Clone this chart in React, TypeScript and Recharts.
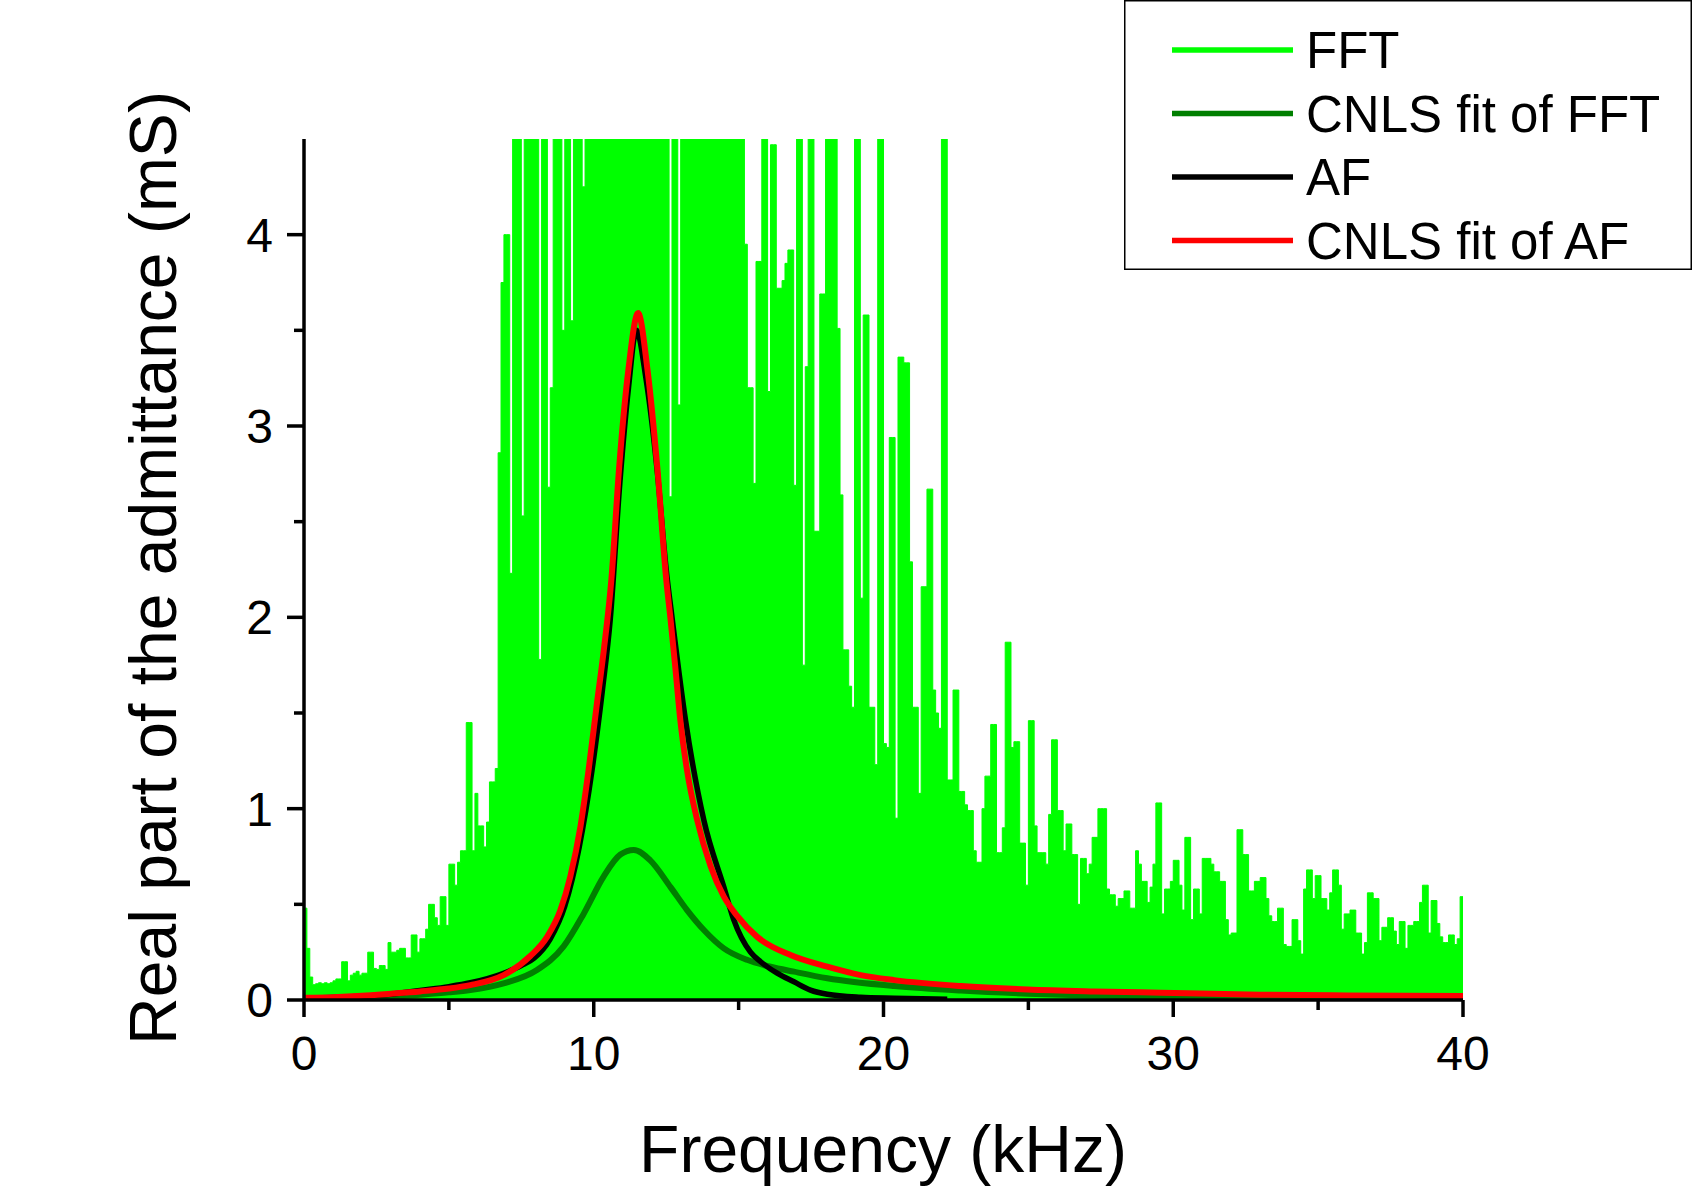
import React from "react";
import { ComposedChart, Area, Line, XAxis, YAxis, Legend } from "recharts";

const FONT = '"Liberation Sans", Arial, Helvetica, sans-serif';

// FFT real part, one value per 0.1 kHz bin from 0 to 40 kHz (mS).
// Values of 5 sit above the 4.5 top of the axis and get clipped.
const fftStep = 0.1;
const fftValues = [
  0.48, 0.27, 0.12, 0.08, 0.085, 0.09, 0.085, 0.09, 0.085, 0.09,
  0.1, 0.11, 0.11, 0.2, 0.2, 0.1, 0.13, 0.14, 0.15, 0.13,
  0.14, 0.14, 0.25, 0.25, 0.165, 0.16, 0.18, 0.18, 0.16, 0.3,
  0.25, 0.25, 0.26, 0.27, 0.27, 0.22, 0.22, 0.34, 0.34, 0.25,
  0.32, 0.32, 0.37, 0.5, 0.5, 0.43, 0.39, 0.54, 0.54, 0.39,
  0.71, 0.71, 0.6, 0.72, 0.78, 0.78, 1.45, 1.45, 0.78, 1.08,
  0.91, 0.91, 0.8, 0.93, 1.14, 1.14, 1.21, 2.86, 3.75, 4.0,
  4.0, 2.23, 5, 5, 5, 2.53, 5, 5, 5, 5,
  5, 1.78, 5, 5, 2.68, 3.2, 5, 5, 5, 3.5,
  5, 5, 3.55, 5, 5, 5, 4.25, 5, 5, 5,
  5, 5, 5, 5, 5, 5, 5, 5, 5, 5,
  5, 5, 5, 5, 5, 5, 5, 5, 5, 5,
  5, 5, 5, 5, 5, 5, 2.63, 5, 5, 3.11,
  5, 5, 5, 5, 5, 5, 5, 5, 5, 5,
  5, 5, 5, 5, 5, 5, 5, 5, 5, 5,
  5, 5, 3.95, 3.2, 3.2, 2.7, 3.86, 3.86, 5, 5,
  3.18, 4.47, 4.47, 3.72, 3.72, 3.76, 3.85, 3.92, 3.92, 2.69,
  5, 5, 1.75, 3.31, 5, 5, 2.45, 2.45, 3.69, 3.69,
  5, 5, 5, 5, 3.51, 2.64, 1.83, 1.83, 1.64, 1.53,
  5, 5, 2.1, 3.58, 3.58, 1.53, 1.53, 1.23, 5, 5,
  1.34, 1.32, 2.94, 2.94, 0.95, 3.36, 3.36, 3.33, 3.33, 2.29,
  1.53, 1.53, 1.08, 2.16, 2.16, 2.67, 2.67, 1.62, 1.5, 1.42,
  5, 5, 1.15, 1.15, 1.62, 1.62, 1.09, 1.09, 1.02, 0.99,
  0.99, 0.78, 0.72, 0.72, 1.0, 1.17, 1.17, 1.44, 1.44, 0.77,
  0.77, 0.9, 1.87, 1.87, 1.32, 1.35, 1.35, 0.82, 0.82, 0.6,
  1.46, 1.46, 0.91, 0.77, 0.77, 0.77, 0.71, 0.97, 1.36, 1.36,
  0.99, 0.99, 0.78, 0.92, 0.92, 0.76, 0.76, 0.5, 0.74, 0.74,
  0.66, 0.71, 0.85, 0.85, 1.0, 1.0, 1.0, 0.58, 0.55, 0.55,
  0.49, 0.53, 0.53, 0.57, 0.57, 0.48, 0.48, 0.78, 0.71, 0.62,
  0.62, 0.51, 0.59, 0.71, 1.03, 1.03, 0.45, 0.58, 0.58, 0.62,
  0.73, 0.73, 0.6, 0.47, 0.85, 0.85, 0.42, 0.58, 0.58, 0.45,
  0.74, 0.74, 0.74, 0.71, 0.67, 0.67, 0.62, 0.62, 0.42, 0.34,
  0.35, 0.35, 0.89, 0.89, 0.76, 0.76, 0.57, 0.57, 0.62, 0.62,
  0.64, 0.64, 0.53, 0.44, 0.41, 0.41, 0.48, 0.48, 0.29, 0.28,
  0.28, 0.42, 0.42, 0.31, 0.24, 0.58, 0.68, 0.68, 0.53, 0.65,
  0.65, 0.53, 0.53, 0.47, 0.56, 0.68, 0.68, 0.6, 0.37, 0.45,
  0.45, 0.47, 0.47, 0.35, 0.35, 0.24, 0.3, 0.56, 0.56, 0.53,
  0.53, 0.31, 0.38, 0.38, 0.43, 0.43, 0.36, 0.29, 0.41, 0.41,
  0.27, 0.39, 0.39, 0.41, 0.41, 0.51, 0.6, 0.6, 0.35, 0.52,
  0.52, 0.4, 0.33, 0.3, 0.3, 0.34, 0.34, 0.29, 0.32, 0.54,
  0.54,
];

// CNLS fit of FFT
const fitFftFreq = [0, 2, 3, 4, 5, 5.74, 6.89, 8.04, 8.96, 9.65, 10.34, 10.92, 11.38, 11.95, 12.65, 13.22, 13.8, 14.49, 15.29, 16.1, 16.91, 18.06, 20.37, 22.67, 24.97, 27.28, 30.73, 33, 40];
const fitFftValues = [0.005, 0.012, 0.018, 0.028, 0.04, 0.052, 0.087, 0.157, 0.28, 0.45, 0.645, 0.76, 0.784, 0.73, 0.59, 0.47, 0.366, 0.27, 0.21, 0.174, 0.148, 0.114, 0.073, 0.049, 0.033, 0.023, 0.012, 0.007, 0.004];

// AF
const afFreq = [0, 2, 3, 4, 5, 5.74, 6.89, 7.5, 7.95, 8.5, 9.0, 9.5, 9.94, 10.3, 10.57, 10.9, 11.2, 11.47, 11.8, 12.2, 12.5, 12.71, 13.17, 13.8, 14.49, 14.83, 15.41, 15.76, 16.33, 16.91, 17.48, 18.06, 19.21, 20.37, 22.2];
const afValues = [0.01, 0.02, 0.03, 0.05, 0.07, 0.09, 0.14, 0.18, 0.22, 0.32, 0.49, 0.8, 1.2, 1.62, 1.99, 2.7, 3.2, 3.5, 3.25, 2.75, 2.25, 1.99, 1.46, 0.94, 0.59, 0.42, 0.25, 0.2, 0.14, 0.095, 0.052, 0.03, 0.014, 0.009, 0.004];

// CNLS fit of AF
const fitAfFreq = [0, 1, 2, 3, 4, 5, 5.74, 6.89, 7.81, 8.39, 8.85, 9.19, 9.54, 9.82, 10.11, 10.34, 10.61, 10.88, 11.2, 11.53, 11.85, 12.19, 12.5, 12.65, 12.82, 12.99, 13.22, 13.57, 14.03, 14.49, 14.95, 15.64, 16.79, 18.06, 19.21, 20.37, 22.67, 24.97, 27.28, 29.58, 33, 36, 40];
const fitAfValues = [0.012, 0.015, 0.022, 0.033, 0.045, 0.06, 0.078, 0.13, 0.23, 0.33, 0.47, 0.645, 0.906, 1.2, 1.55, 1.82, 2.2, 2.79, 3.3, 3.59, 3.3, 2.79, 2.2, 1.99, 1.73, 1.46, 1.2, 0.94, 0.7, 0.54, 0.44, 0.33, 0.235, 0.174, 0.13, 0.104, 0.073, 0.055, 0.045, 0.038, 0.028, 0.024, 0.021];

const xTicks = [0, 5, 10, 15, 20, 25, 30, 35, 40];
const yTicks = [0, 0.5, 1, 1.5, 2, 2.5, 3, 3.5, 4];

const fftData = fftValues.map((v, i) => ({ f: Math.round(i * fftStep * 10) / 10, g: v }));
const zip = (fs: number[], vs: number[]) => fs.map((f, i) => ({ f, g: vs[i] }));
const fitFftData = zip(fitFftFreq, fitFftValues);
const afData = zip(afFreq, afValues);
const fitAfData = zip(fitAfFreq, fitAfValues);

const series = [
  { name: "FFT", color: "#00FF00" },
  { name: "CNLS fit of FFT", color: "#007F00" },
  { name: "AF", color: "#000000" },
  { name: "CNLS fit of AF", color: "#FF0000" },
];

const XTick = (props: any) => {
  const { x, y, payload } = props;
  const v = payload.value;
  const major = v % 10 === 0;
  return (
    <g>
      <line x1={x} x2={x} y1={y} y2={y + (major ? 17 : 10)} stroke="#000" strokeWidth={3.5} />
      {major && (
        <text x={x} y={y + 70} textAnchor="middle" fontFamily={FONT} fontSize={48} fill="#000">
          {v}
        </text>
      )}
    </g>
  );
};

const YTick = (props: any) => {
  const { x, y, payload } = props;
  const v = payload.value;
  const major = Number.isInteger(v);
  return (
    <g>
      <line x1={x - (major ? 17 : 10)} x2={x} y1={y} y2={y} stroke="#000" strokeWidth={3.5} />
      {major && (
        <text x={x - 31} y={y + 17} textAnchor="end" fontFamily={FONT} fontSize={48} fill="#000">
          {v}
        </text>
      )}
    </g>
  );
};

const LegendBox = () => (
  <svg width={568} height={270} style={{ display: "block" }}>
    <rect x={0.75} y={0.75} width={566.5} height={268.5} fill="#fff" stroke="#000" strokeWidth={1.5} />
    {series.map((s, i) => {
      const cy = 50 + i * 63.5;
      return (
        <g key={s.name}>
          <line x1={48} x2={169} y1={cy} y2={cy} stroke={s.color} strokeWidth={5.5} />
          <text x={182} y={cy + 18} fontFamily={FONT} fontSize={51} fill="#000">
            {s.name}
          </text>
        </g>
      );
    })}
  </svg>
);

export default function App() {
  return (
    <div style={{ position: "absolute", left: 0, top: 0, width: 1695, height: 1198, background: "#fff" }}>
      <ComposedChart width={1695} height={1198} margin={{ top: 139, right: 232, bottom: 98, left: 204 }}>
        <XAxis
          type="number"
          dataKey="f"
          domain={[0, 40]}
          ticks={xTicks}
          interval={0}
          allowDataOverflow
          height={100}
          tickSize={0}
          tickMargin={0}
          tickLine={false}
          axisLine={{ stroke: "#000", strokeWidth: 3.5 }}
          tick={<XTick />}
        />
        <YAxis
          type="number"
          domain={[0, 4.5]}
          ticks={yTicks}
          interval={0}
          allowDataOverflow
          width={100}
          tickSize={0}
          tickMargin={0}
          tickLine={false}
          axisLine={{ stroke: "#000", strokeWidth: 3.5 }}
          tick={<YTick />}
        />
        <Area
          data={fftData}
          dataKey="g"
          name="FFT"
          type="stepAfter"
          stroke="#00FF00"
          strokeWidth={1}
          fill="#00FF00"
          fillOpacity={1}
          baseValue={0}
          isAnimationActive={false}
          dot={false}
          activeDot={false}
        />
        <Line data={fitFftData} dataKey="g" name="CNLS fit of FFT" type="monotone" stroke="#007F00" strokeWidth={6} dot={false} activeDot={false} isAnimationActive={false} />
        <Line data={afData} dataKey="g" name="AF" type="monotone" stroke="#000000" strokeWidth={5.5} dot={false} activeDot={false} isAnimationActive={false} />
        <Line data={fitAfData} dataKey="g" name="CNLS fit of AF" type="monotone" stroke="#FF0000" strokeWidth={6} dot={false} activeDot={false} isAnimationActive={false} />
        <Legend
          layout="vertical"
          align="center"
          verticalAlign="middle"
          wrapperStyle={{ left: 1124, top: 0, width: 568, height: 270 }}
          content={<LegendBox />}
        />
      </ComposedChart>
      <svg width={1695} height={1198} style={{ position: "absolute", left: 0, top: 0, pointerEvents: "none" }}>
        <text x={883} y={1172} textAnchor="middle" fontFamily={FONT} fontSize={66} fill="#000">
          Frequency (kHz)
        </text>
        <text x={176} y={568} transform="rotate(-90 176 568)" textAnchor="middle" fontFamily={FONT} fontSize={66} fill="#000">
          Real part of the admittance (mS)
        </text>
      </svg>
    </div>
  );
}
